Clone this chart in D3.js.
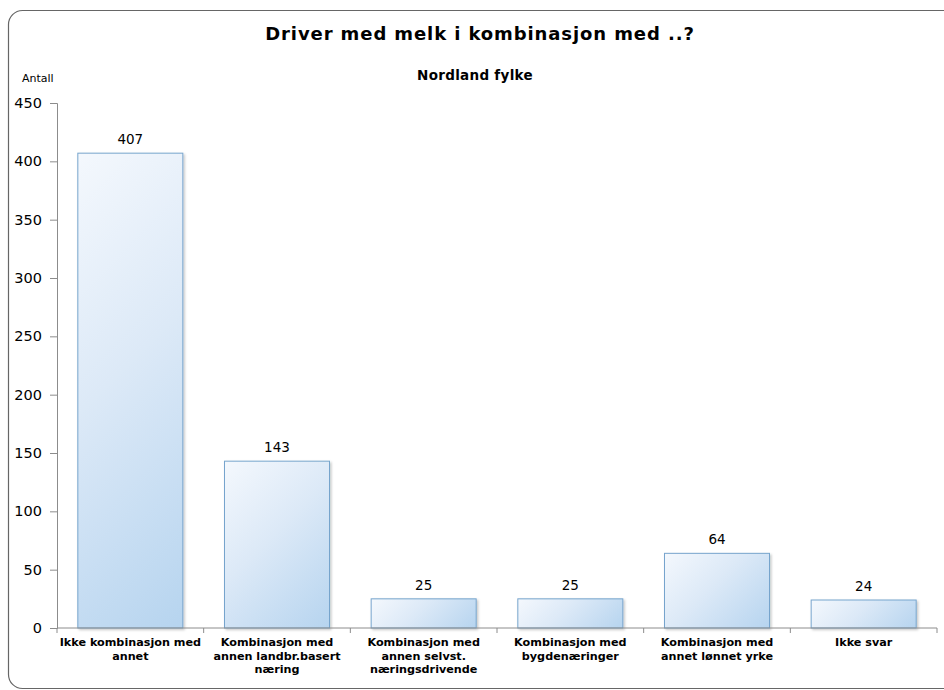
<!DOCTYPE html>
<html>
<head>
<meta charset="utf-8">
<script src="https://cdn.jsdelivr.net/npm/d3@7"></script>
<style>
  body { margin: 0; background: #fff; }
  text { font-family: "DejaVu Sans", Verdana, sans-serif; }
</style>
</head>
<body>
<svg id="chart" width="944" height="690"></svg>
<script>
var categories = [
  ["Ikke kombinasjon med", "annet"],
  ["Kombinasjon med", "annen landbr.basert", "næring"],
  ["Kombinasjon med", "annen selvst.", "næringsdrivende"],
  ["Kombinasjon med", "bygdenæringer"],
  ["Kombinasjon med", "annet lønnet yrke"],
  ["Ikke svar"]
];
var values = [407, 143, 25, 25, 64, 24];
var y_ticks = [0, 50, 100, 150, 200, 250, 300, 350, 400, 450];

var svg = d3.select("#chart");
var margin = {left: 57, right: 7, top: 103, bottom: 62};
var width = 944 - margin.left - margin.right;
var height = 690 - margin.top - margin.bottom;

// frame
svg.append("rect")
  .attr("x", 8.5).attr("y", 10.5)
  .attr("width", 960).attr("height", 678)
  .attr("rx", 14)
  .attr("fill", "#fff")
  .attr("stroke", "#666")
  .attr("stroke-width", 1.2);

var defs = svg.append("defs");
var shadow = defs.append("filter").attr("id", "shadow")
  .attr("x", "-10%").attr("y", "-10%").attr("width", "130%").attr("height", "130%");
shadow.append("feDropShadow")
  .attr("dx", 1.5).attr("dy", 1.5).attr("stdDeviation", 1.2)
  .attr("flood-color", "#000").attr("flood-opacity", 0.22);

var g = svg.append("g").attr("transform", "translate(" + margin.left + "," + margin.top + ")");

var x = d3.scaleBand()
  .domain(d3.range(values.length))
  .range([0, width])
  .paddingInner(0.284)
  .paddingOuter(0.142);

var y = d3.scaleLinear().domain([0, 450]).range([height, 0]);

// one 45 degree gradient per bar (user space of the plot group)
values.forEach(function(d, i)
{
  let bx = x(i), by = y(d), bw = x.bandwidth(), bh = height - y(d);
  let s = (bw + bh) / 2;
  let grad = defs.append("linearGradient")
    .attr("id", "barfill" + i)
    .attr("gradientUnits", "userSpaceOnUse")
    .attr("x1", bx).attr("y1", by)
    .attr("x2", bx + s).attr("y2", by + s);
  grad.append("stop").attr("offset", "0%").attr("stop-color", "#f4f8fd");
  grad.append("stop").attr("offset", "45%").attr("stop-color", "#dce9f7");
  grad.append("stop").attr("offset", "100%").attr("stop-color", "#b6d4ef");
});

// y axis
var yAxis = g.append("g")
  .call(d3.axisLeft(y).tickValues(y_ticks).tickSize(7).tickPadding(8));
yAxis.select(".domain").attr("stroke", "#8c8c8c");
yAxis.selectAll(".tick line").attr("stroke", "#8c8c8c");
yAxis.selectAll(".tick text")
  .attr("font-size", 14.5)
  .attr("fill", "#000")
  .style("font-family", "DejaVu Sans, Verdana, sans-serif");

// bars
g.selectAll(".bar")
  .data(values)
  .enter()
  .append("rect")
  .attr("class", "bar")
  .attr("x", function(d, i) {return x(i);})
  .attr("y", function(d) {return y(d);})
  .attr("width", x.bandwidth())
  .attr("height", function(d) {return height - y(d);})
  .attr("fill", function(d, i) {return "url(#barfill" + i + ")";})
  .attr("stroke", "#77a5cd")
  .attr("stroke-width", 1)
  .attr("filter", "url(#shadow)");

// value labels
g.selectAll(".val")
  .data(values)
  .enter()
  .append("text")
  .attr("x", function(d, i) {return x(i) + x.bandwidth() / 2;})
  .attr("y", function(d) {return y(d) - 9;})
  .attr("text-anchor", "middle")
  .attr("font-size", 13.5)
  .attr("fill", "#000")
  .text(function(d) {return d;});

// x axis
var step = width / values.length;
var xAxis = g.append("g").attr("transform", "translate(0," + height + ")");
xAxis.append("line")
  .attr("x1", 0).attr("x2", width)
  .attr("stroke", "#8c8c8c");
xAxis.selectAll(".xt")
  .data(d3.range(values.length + 1))
  .enter()
  .append("line")
  .attr("x1", function(d) {return d * step;})
  .attr("x2", function(d) {return d * step;})
  .attr("y1", 0).attr("y2", 5)
  .attr("stroke", "#8c8c8c");

var labels = xAxis.selectAll(".cat")
  .data(categories)
  .enter()
  .append("text")
  .attr("text-anchor", "middle")
  .attr("font-size", 11.2)
  .attr("font-weight", "bold")
  .attr("fill", "#000")
  .attr("transform", function(d, i) {return "translate(" + (x(i) + x.bandwidth() / 2) + ",18)";});
labels.selectAll("tspan")
  .data(function(d) {return d;})
  .enter()
  .append("tspan")
  .attr("x", 0)
  .attr("dy", function(d, i) {return i === 0 ? 0 : 13.5;})
  .text(function(d) {return d;});

// titles
svg.append("text")
  .attr("x", 480).attr("y", 40)
  .attr("text-anchor", "middle")
  .attr("font-size", 18)
  .attr("font-weight", "bold")
  .attr("letter-spacing", 0.9)
  .text("Driver med melk i kombinasjon med ..?");

svg.append("text")
  .attr("x", 475).attr("y", 80)
  .attr("text-anchor", "middle")
  .attr("font-size", 13.5)
  .attr("font-weight", "bold")
  .attr("letter-spacing", 0.3)
  .text("Nordland fylke");

svg.append("text")
  .attr("x", 22).attr("y", 82)
  .attr("font-size", 11)
  .text("Antall");
</script>
</body>
</html>
